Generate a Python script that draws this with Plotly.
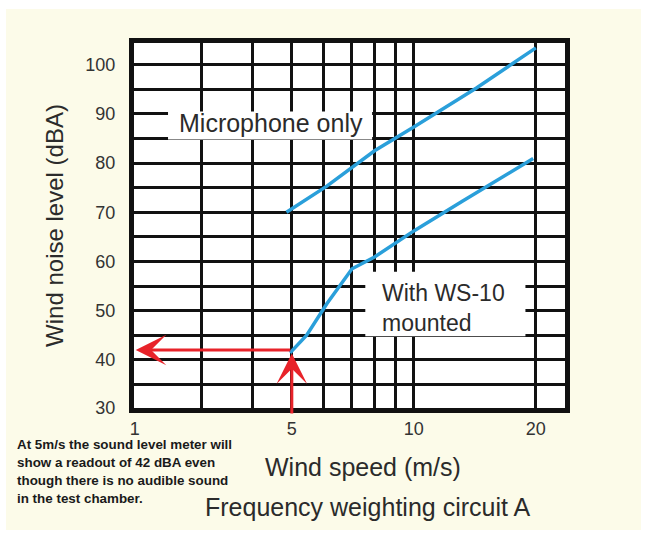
import numpy as np
import plotly.graph_objects as go

# ---- data ----
mic_speed = [4.85, 6.1, 8.0, 10.0, 14.3, 20.0]
mic_level = [70.0, 75.3, 82.5, 87.3, 95.3, 103.4]

ws_speed = [4.95, 5.44, 6.1, 6.58, 7.04, 8.0, 9.0, 10.0, 13.2, 19.7]
ws_level = [41.4, 45.0, 51.4, 55.1, 58.5, 60.9, 63.7, 66.2, 72.3, 80.9]

x_tick_vals = [2.05, 3, 4, 5, 6, 7, 8, 9, 10, 20]
x_tick_text = ["1", "", "", "5", "", "", "", "", "10", "20"]
y_tick_vals = [35, 40, 45, 50, 55, 60, 65, 70, 75, 80, 85, 90, 95, 100, 30.3]
y_tick_text = ["", "40", "", "50", "", "60", "", "70", "", "80", "", "90", "", "100", "30"]

readout_speed = 5
readout_level = 42

footnote_lines = [
    "At 5m/s the sound level meter will",
    "show a readout of 42 dBA even",
    "though there is no audible sound",
    "in the test chamber.",
]

FONT = "Liberation Sans, Arial, Helvetica, sans-serif"
TXT = "#2b2b2b"
BLUE = "#2a9fda"
RED = "#e8232a"
CREAM = "#fcfbe9"

fig = go.Figure()
fig.add_trace(go.Scatter(x=mic_speed, y=mic_level, mode="lines",
                         line=dict(color=BLUE, width=3.5), name="Microphone only"))
fig.add_trace(go.Scatter(x=ws_speed, y=ws_level, mode="lines",
                         line=dict(color=BLUE, width=3.5), name="With WS-10 mounted"))

W, H = 648, 535
ML, MR, MT, MB = 134, 83, 43, 127
PW, PH = W - ML - MR, H - MT - MB


def px_x(p):
    return (p - ML) / PW


def px_y(p):
    return (H - MB - p) / PH


fig.update_layout(
    width=W, height=H,
    margin=dict(l=ML, r=MR, t=MT, b=MB, autoexpand=False),
    paper_bgcolor="white", plot_bgcolor="white",
    showlegend=False,
    font=dict(family=FONT, color=TXT),
)

fig.update_xaxes(
    type="log", range=[np.log10(2.04), np.log10(23.6)],
    tickmode="array", tickvals=x_tick_vals, ticktext=x_tick_text,
    showgrid=True, gridcolor="#111111", gridwidth=3,
    showline=True, linecolor="#111111", linewidth=5, mirror=True,
    ticks="", zeroline=False,
    tickfont=dict(family=FONT, size=18, color="#333333"),
    fixedrange=True,
)
fig.update_yaxes(
    range=[30.2, 104.4],
    tickmode="array", tickvals=y_tick_vals, ticktext=y_tick_text,
    showgrid=True, gridcolor="#111111", gridwidth=3,
    showline=True, linecolor="#111111", linewidth=5, mirror=True,
    ticks="", zeroline=False, ticklabelstandoff=10,
    tickfont=dict(family=FONT, size=18, color="#333333"),
    title=dict(text="Wind noise level (dBA)", font=dict(family=FONT, size=24, color=TXT), standoff=16),
    fixedrange=True,
)

shapes = [
    # cream page background with thin white frame
    dict(type="rect", xref="paper", yref="paper", layer="below",
         x0=px_x(6), x1=px_x(641), y0=px_y(530), y1=px_y(9),
         fillcolor=CREAM, line=dict(width=0)),
    # white plot area
    dict(type="rect", xref="paper", yref="paper", layer="below",
         x0=0, x1=1, y0=0, y1=1, fillcolor="white", line=dict(width=0)),
    # label boxes hiding the grid
    dict(type="rect", xref="x", yref="y", layer="above",
         x0=2.475, x1=7.89, y0=84.8, y1=90.5, fillcolor="white", line=dict(width=0)),
    dict(type="rect", xref="x", yref="y", layer="above",
         x0=7.59, x1=18.85, y0=44.8, y1=57.9, fillcolor="white", line=dict(width=0)),
]
fig.update_layout(shapes=shapes)

annotations = [
    dict(text="Microphone only", x=np.log10(4.45), y=88.2, xref="x", yref="y",
         showarrow=False, xanchor="center", yanchor="middle",
         font=dict(family=FONT, size=25, color=TXT)),
    dict(text="With WS-10<br>mounted", x=np.log10(8.26), y=50.45, xref="x", yref="y",
         showarrow=False, xanchor="left", yanchor="middle", align="left",
         font=dict(family=FONT, size=23, color=TXT)),
    # red arrows
    dict(text="", x=np.log10(2.06), y=readout_level, xref="x", yref="y",
         ax=np.log10(readout_speed), ay=readout_level, axref="x", ayref="y",
         showarrow=True, arrowhead=3, arrowwidth=3, arrowsize=1.7,
         arrowcolor=RED, standoff=0, startstandoff=0),
    dict(text="", x=np.log10(readout_speed), y=41.3, xref="x", yref="y",
         ax=np.log10(readout_speed), ay=28.8, axref="x", ayref="y",
         showarrow=True, arrowhead=3, arrowwidth=3, arrowsize=1.7,
         arrowcolor=RED, standoff=0, startstandoff=0),
    # x titles
    dict(text="Wind speed (m/s)", x=px_x(363), y=px_y(466.7), xref="paper", yref="paper",
         showarrow=False, xanchor="center", yanchor="middle",
         font=dict(family=FONT, size=25, color=TXT)),
    dict(text="Frequency weighting circuit A", x=px_x(367.5), y=px_y(506.7),
         xref="paper", yref="paper", showarrow=False, xanchor="center", yanchor="middle",
         font=dict(family=FONT, size=25, color=TXT)),
]

foot_y = [444.5, 462.5, 480.5, 498.5]
for line, py in zip(footnote_lines, foot_y):
    annotations.append(dict(
        text=line, x=px_x(15), y=px_y(py), xref="paper", yref="paper",
        showarrow=False, xanchor="left", yanchor="middle", align="left",
        font=dict(family=FONT, size=13.4, color="#1a1a1a", weight="bold")))

fig.update_layout(annotations=annotations)

fig.write_html("out.html", config={"displayModeBar": False},
               post_script="document.body.style.margin='0';")
